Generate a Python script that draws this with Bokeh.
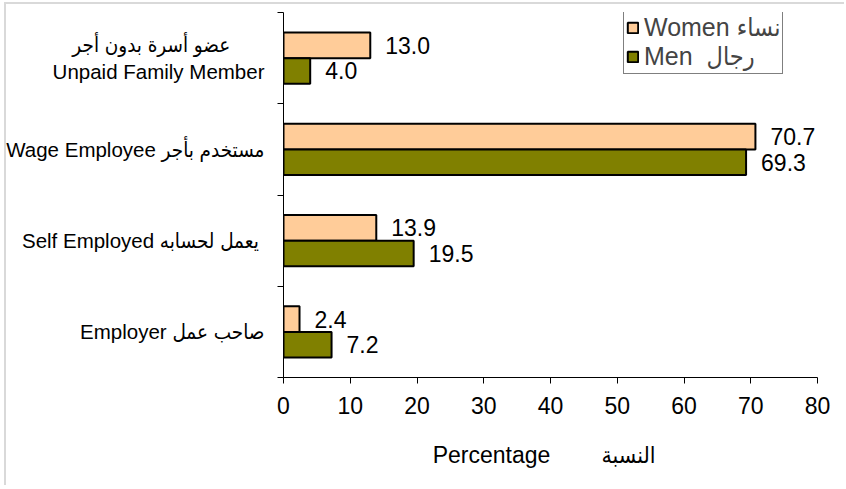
from bokeh.plotting import figure
from bokeh.models import (Range1d, FixedTicker, Legend, LegendItem, ColumnDataSource)
from bokeh.transform import dodge
from bokeh.core.properties import value
from bokeh.embed import file_html
from bokeh.resources import INLINE

# ---- data (bottom to top) ----
categories = ["Employer", "Self Employed", "Wage Employee", "Unpaid Family Member"]
NB = "\u00a0"
category_labels = [
    "Employer صاحب عمل",
    "Self Employed  يعمل لحسابه",
    "Wage Employee مستخدم بأجر",
    "عضو أسرة بدون أجر" + NB * 6 + "\nUnpaid Family Member",
]
women = [2.4, 13.9, 70.7, 13.0]
men = [7.2, 19.5, 69.3, 4.0]
series_labels = ["Women نساء", "Men  رجال"]
x_ticks = [0, 10, 20, 30, 40, 50, 60, 70, 80]
x_label = "Percentage" + NB * 8 + "النسبة" + NB * 2

FONT = "Liberation Sans, DejaVu Sans Condensed"
WOMEN_COLOR = "#FFCC99"
MEN_COLOR = "#808000"

n = len(categories)
centres = [i + 0.5 for i in range(n)]   # band centres on the category scale
src = ColumnDataSource(dict(
    pos=centres,
    women=women,
    men=men,
    women_txt=[f"{v:.1f}" for v in women],
    men_txt=[f"{v:.1f}" for v in men],
))

p = figure(width=844, height=485,
           y_range=Range1d(0, n), x_range=Range1d(0, 80),
           output_backend="svg", toolbar_location=None,
           min_border_left=283, min_border_right=27, min_border_top=12, min_border_bottom=108,
           background_fill_color="white", border_fill_color=None,
           styles={"box-shadow": "inset 4px 2px 0 0 white, inset 6px 4px 0 0 #d9d9d9",
                   "background-color": "white"})
p.outline_line_color = None
p.xgrid.visible = False
p.ygrid.visible = False

# bars
off = 0.14
h = 0.28
rw = p.hbar(y=dodge("pos", off), left=0, right="women", height=h,
            fill_color=WOMEN_COLOR, line_color="black", line_width=2, source=src)
rm = p.hbar(y=dodge("pos", -off), left=0, right="men", height=h,
            fill_color=MEN_COLOR, line_color="black", line_width=2, source=src)

# value labels
for col, txt, o in (("women", "women_txt", off), ("men", "men_txt", -off)):
    p.text(x=col, y=dodge("pos", o), text=txt, source=src,
           x_offset=15, text_baseline="middle", text_align="left",
           text_font=value(FONT), text_font_size="23px", text_color="black")

# x axis
xa = p.xaxis[0]
xa.ticker = FixedTicker(ticks=x_ticks)
xa.major_tick_out = 6
xa.major_tick_in = 0
xa.minor_tick_out = 0
xa.minor_tick_in = 0
xa.axis_line_color = "black"
xa.major_tick_line_color = "black"
xa.major_label_text_font = FONT
xa.major_label_text_font_size = "23px"
xa.major_label_text_color = "black"
xa.major_label_standoff = 13
xa.axis_label = x_label
xa.axis_label_text_font = FONT
xa.axis_label_text_font_size = "23px"
xa.axis_label_text_font_style = "normal"
xa.axis_label_text_color = "black"
xa.axis_label_standoff = 25

# y axis: ticks at category boundaries, labels at centres
ya = p.yaxis[0]
ya.ticker = FixedTicker(ticks=centres, minor_ticks=list(range(n + 1)))
ya.major_label_overrides = {c: lbl for c, lbl in zip(centres, category_labels)}
ya.major_tick_out = 0
ya.major_tick_in = 0
ya.minor_tick_out = 6
ya.minor_tick_in = 0
ya.minor_tick_line_color = "black"
ya.axis_line_color = "black"
ya.major_label_text_font = FONT
ya.major_label_text_font_size = "20.5px"
ya.major_label_text_color = "black"
ya.major_label_standoff = 13

# legend
legend = Legend(items=[LegendItem(label=series_labels[0], renderers=[rw]),
                       LegendItem(label=series_labels[1], renderers=[rm])],
                location=(340, 303),
                border_line_color="black", border_line_width=1,
                background_fill_color="white", background_fill_alpha=1,
                label_text_font=FONT, label_text_font_size="25px",
                label_text_line_height=1.0,
                glyph_width=13, glyph_height=13, label_standoff=5,
                label_height=20, padding=2, spacing=0, margin=0)
p.add_layout(legend)

open("out.html", "w").write(file_html(p, INLINE))
